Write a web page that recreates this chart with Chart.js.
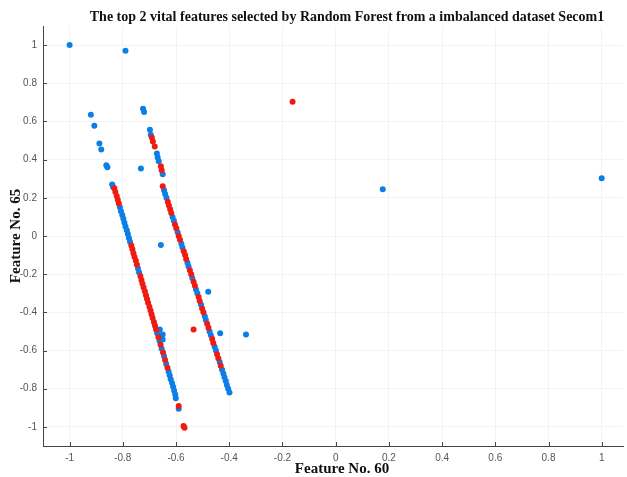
<!DOCTYPE html>
<html>
<head>
<meta charset="utf-8">
<script src="https://cdn.jsdelivr.net/npm/chart.js@4.4.0/dist/chart.umd.min.js"></script>
<style>
  body { margin: 0; background: #fff; overflow: hidden; }
  canvas { display: block; }
</style>
</head>
<body>
<canvas id="scatterChart" width="627" height="477"></canvas>
<script>
// tick values shared by both axes
const tickValues = [-1, -0.8, -0.6, -0.4, -0.2, 0, 0.2, 0.4, 0.6, 0.8, 1];

// scattered points away from the two bands
const blueOutX = [-1, -0.79, -0.92, -0.907, -0.888, -0.881, -0.862, -0.858, -0.84, -0.836, -0.724, -0.72, -0.732, -0.657, -0.479, -0.434, -0.337, 0.177, 1.0, -0.661, -0.65, -0.65, -0.601, -0.59];
const blueOutY = [1, 0.97, 0.635, 0.578, 0.484, 0.453, 0.37, 0.36, 0.27, 0.255, 0.667, 0.65, 0.354, -0.047, -0.292, -0.51, -0.516, 0.245, 0.302, -0.49, -0.516, -0.542, -0.85, -0.905];
const redOutX = [-0.162, -0.534, -0.59, -0.572, -0.568];
const redOutY = [0.703, -0.49, -0.89, -0.995, -1.005];

// left band
const leftBlueX = [-0.811, -0.807, -0.802, -0.798, -0.794, -0.790, -0.785, -0.781, -0.777, -0.773, -0.743, -0.739, -0.671, -0.662, -0.654, -0.645, -0.637, -0.628, -0.624, -0.620, -0.615, -0.611, -0.607, -0.603];
const leftBlueY = [0.15, 0.13, 0.11, 0.09, 0.07, 0.05, 0.03, 0.01, -0.01, -0.03, -0.17, -0.19, -0.51, -0.55, -0.59, -0.63, -0.67, -0.71, -0.73, -0.75, -0.77, -0.79, -0.81, -0.83];
const leftRedX = [-0.832, -0.828, -0.823, -0.819, -0.815, -0.768, -0.764, -0.760, -0.756, -0.751, -0.747, -0.734, -0.730, -0.726, -0.722, -0.717, -0.713, -0.709, -0.705, -0.700, -0.696, -0.692, -0.688, -0.683, -0.679, -0.675, -0.666, -0.658, -0.649, -0.641, -0.632];
const leftRedY = [0.25, 0.23, 0.21, 0.19, 0.17, -0.05, -0.07, -0.09, -0.11, -0.13, -0.15, -0.21, -0.23, -0.25, -0.27, -0.29, -0.31, -0.33, -0.35, -0.37, -0.39, -0.41, -0.43, -0.45, -0.47, -0.49, -0.53, -0.57, -0.61, -0.65, -0.69];

// right band
const rightBlueX = [-0.698, -0.695, -0.672, -0.669, -0.665, -0.650, -0.645, -0.641, -0.636, -0.613, -0.608, -0.594, -0.580, -0.576, -0.557, -0.553, -0.539, -0.525, -0.520, -0.506, -0.492, -0.488, -0.474, -0.469, -0.455, -0.450, -0.436, -0.427, -0.422, -0.418, -0.413, -0.409, -0.404, -0.399];
const rightBlueY = [0.557, 0.531, 0.432, 0.411, 0.391, 0.323, 0.24, 0.22, 0.20, 0.10, 0.08, 0.02, -0.04, -0.06, -0.14, -0.16, -0.22, -0.28, -0.30, -0.36, -0.42, -0.44, -0.50, -0.52, -0.58, -0.60, -0.66, -0.70, -0.72, -0.74, -0.76, -0.78, -0.80, -0.82];
const rightRedX = [-0.691, -0.687, -0.680, -0.657, -0.654, -0.650, -0.631, -0.627, -0.622, -0.618, -0.604, -0.599, -0.590, -0.585, -0.571, -0.566, -0.562, -0.548, -0.543, -0.534, -0.529, -0.515, -0.511, -0.502, -0.497, -0.483, -0.478, -0.464, -0.460, -0.446, -0.441, -0.432];
const rightRedY = [0.516, 0.495, 0.469, 0.365, 0.344, 0.26, 0.18, 0.16, 0.14, 0.12, 0.06, 0.04, 0.00, -0.02, -0.08, -0.10, -0.12, -0.18, -0.20, -0.24, -0.26, -0.32, -0.34, -0.38, -0.40, -0.46, -0.48, -0.54, -0.56, -0.62, -0.64, -0.68];

function toPoints(xs, ys) {
    return xs.map((x, i) => ({ x: x, y: ys[i] }));
}

const bluePoints = [].concat(toPoints(blueOutX, blueOutY), toPoints(leftBlueX, leftBlueY), toPoints(rightBlueX, rightBlueY));
const redPoints = [].concat(toPoints(redOutX, redOutY), toPoints(leftRedX, leftRedY), toPoints(rightRedX, rightRedY));

const serif = '"Liberation Serif", "Times New Roman", serif';

// title, x label and inward tick marks, matlab style
const decorPlugin = {
    id: 'decor',
    afterDraw(chart) {
        const ctx = chart.ctx;
        const area = chart.chartArea;
        const xs = chart.scales.x;
        const ys = chart.scales.y;
        ctx.save();
        ctx.strokeStyle = '#444';
        ctx.lineWidth = 1;
        ctx.beginPath();
        tickValues.forEach(v => {
            const px = Math.round(xs.getPixelForValue(v)) + 0.5;
            ctx.moveTo(px, area.bottom);
            ctx.lineTo(px, area.bottom - 4);
            const py = Math.round(ys.getPixelForValue(v)) + 0.5;
            ctx.moveTo(area.left, py);
            ctx.lineTo(area.left + 4, py);
        });
        ctx.stroke();
        ctx.fillStyle = '#111';
        ctx.textAlign = 'center';
        ctx.textBaseline = 'alphabetic';
        ctx.font = 'bold 14px ' + serif;
        ctx.fillText('The top 2 vital features selected by Random Forest from a imbalanced dataset Secom1', 347, 21);
        ctx.font = 'bold 15px ' + serif;
        ctx.fillText('Feature No. 60', 342, 473);
        ctx.restore();
    }
};

const tickFont = { family: '"Liberation Sans", Arial, sans-serif', size: 10 };

const ctx = document.getElementById('scatterChart').getContext('2d');
const scatterChart = new Chart(ctx, {
    type: 'scatter',
    data: {
        datasets: [{
            label: 'minority',
            data: redPoints,
            backgroundColor: '#f01a10',
            pointRadius: 3,
            borderWidth: 0
        }, {
            label: 'majority',
            data: bluePoints,
            backgroundColor: '#0b7fe8',
            pointRadius: 3,
            borderWidth: 0
        }]
    },
    options: {
        responsive: false,
        animation: false,
        layout: { padding: { top: 26, left: 0, right: 0, bottom: 0 } },
        plugins: {
            legend: { display: false },
            tooltip: { enabled: false }
        },
        scales: {
            x: {
                type: 'linear',
                min: -1.1,
                max: 1.08,
                afterBuildTicks: scale => { scale.ticks = tickValues.map(v => ({ value: v })); },
                afterFit: scale => { scale.height = 31; },
                ticks: {
                    callback: v => String(v),
                    font: tickFont,
                    color: '#555',
                    padding: 6,
                    maxRotation: 0,
                    autoSkip: false
                },
                grid: { color: '#f3f3f3', drawTicks: false },
                border: { color: '#444' }
            },
            y: {
                type: 'linear',
                min: -1.1,
                max: 1.1,
                afterBuildTicks: scale => { scale.ticks = tickValues.map(v => ({ value: v })); },
                afterFit: scale => { scale.width = 43; },
                ticks: {
                    callback: v => String(v),
                    font: tickFont,
                    color: '#555',
                    padding: 6,
                    autoSkip: false
                },
                grid: { color: '#f3f3f3', drawTicks: false },
                border: { color: '#444' },
                title: {
                    display: true,
                    text: 'Feature No. 65',
                    font: { family: serif, size: 15, weight: 'bold' },
                    color: '#111',
                    padding: { top: 7, bottom: 0 }
                }
            }
        }
    },
    plugins: [decorPlugin]
});
</script>
</body>
</html>
